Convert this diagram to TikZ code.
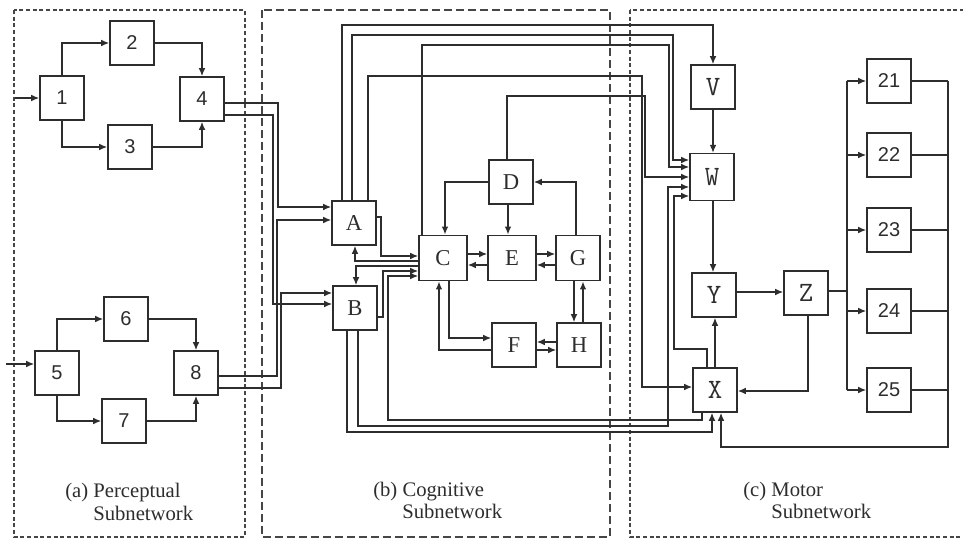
\documentclass[tikz,border=0pt]{standalone}
\usepackage{fontspec}
\setmainfont{Liberation Serif}
\newfontfamily\numfont{Liberation Sans}
\usetikzlibrary{arrows.meta}
\definecolor{lc}{RGB}{45,45,45}
\definecolor{dc}{RGB}{70,70,70}
\begin{document}
\begin{tikzpicture}[x=0.75pt,y=-0.75pt,
  box/.style={draw=lc,line width=1.2pt,fill=white,minimum width=33pt,minimum height=33pt,inner sep=0pt,font=\fontsize{17}{17}\selectfont,text=lc},
  nbox/.style={box,font=\numfont\fontsize{15}{15}\selectfont},
  mbox/.style={box,font=\ttfamily\fontsize{21}{21}\selectfont},
  ln/.style={draw=lc,line width=1pt},
  arr/.style={ln,-{Latex[length=6pt,width=5pt]}},
  lbl/.style={anchor=base west,inner sep=0pt,font=\fontsize{15.5}{15.5}\selectfont,text=lc},
  dsa/.style={draw=dc,line width=1pt,dash pattern=on 3pt off 2pt},
  dsb/.style={draw=dc,line width=1pt,dash pattern=on 6pt off 3pt},
]
\useasboundingbox (0,0) rectangle (963,539);
\fill[white] (0,0) rectangle (963,539);
% subnetwork frames
\draw[dsa] (14,10) rectangle (245,537);
\draw[dsb] (262,10) rectangle (610,537);
\draw[dsa] (630,10) rectangle (970,537);
% labels
\node[lbl] (la1) at (65,497) {(a) Perceptual};
\node[lbl] (la2) at (93,520) {Subnetwork};
\node[lbl] (lb1) at (373,496) {(b) Cognitive};
\node[lbl] (lb2) at (402,518) {Subnetwork};
\node[lbl] (lc1) at (743,496) {(c) Motor};
\node[lbl] (lc2) at (771,518) {Subnetwork};
% perceptual nodes
\node[nbox] (n1) at (62,98) {1};
\node[nbox] (n2) at (132,43) {2};
\node[nbox] (n3) at (130,147) {3};
\node[nbox] (n4) at (202,99) {4};
\node[nbox] (n5) at (57,373) {5};
\node[nbox] (n6) at (126,319) {6};
\node[nbox] (n7) at (124,421) {7};
\node[nbox] (n8) at (196,373) {8};
% cognitive nodes
\node[box] (nA) at (354,223) {A};
\node[box] (nB) at (355,308) {B};
\node[box,minimum width=36pt,minimum height=34pt] (nC) at (443,258) {C};
\node[box] (nD) at (511,182) {D};
\node[box,minimum width=36pt,minimum height=34pt] (nE) at (512,258) {E};
\node[box,minimum height=34pt] (nG) at (578,258) {G};
\node[box] (nF) at (514,345) {F};
\node[box] (nH) at (579,345) {H};
% motor nodes
\node[mbox] (nV) at (713,87) {V};
\node[mbox,minimum height=35pt] (nW) at (712,177) {W};
\node[mbox] (nY) at (714,295) {Y};
\node[mbox] (nZ) at (806,293) {Z};
\node[mbox] (nX) at (715,390) {X};
\node[nbox] (n21) at (889,81) {21};
\node[nbox] (n22) at (889,155) {22};
\node[nbox] (n23) at (889,230) {23};
\node[nbox] (n24) at (889,311) {24};
\node[nbox] (n25) at (889,390) {25};
% perceptual connectors
\coordinate (in1) at (15,98);
\coordinate (in5) at (6,364);
\draw[arr] (in1) -- (n1.west |- in1);
\draw[arr] (in5) -- (n5.west |- in5);
\draw[arr] (n1.north) |- (n2.west);
\draw[arr] (n1.south) |- (n3.west);
\draw[arr] (n2.east) -| (n4.north);
\draw[arr] (n3.east) -| (n4.south);
\draw[arr] (n5.north) |- (n6.west);
\draw[arr] (n5.south) |- (n7.west);
\draw[arr] (n6.east) -| (n8.north);
\draw[arr] (n7.east) -| (n8.south);
% perceptual -> cognitive
\draw[arr] (n4.east |- 0,103) -| (278,207) -- (nA.west |- 0,207);
\draw[arr] (n4.east |- 0,115) -| (273,304) -- (nB.west |- 0,304);
\draw[arr] (n8.east |- 0,376) -| (277,220) -- (nA.west |- 0,220);
\draw[arr] (n8.east |- 0,388) -| (281,293) -- (nB.west |- 0,293);
% cognitive internal
\draw[arr] (nD.west) -| (nC.north -| 445,0);
\draw[arr] (nD.south -| 508,0) -- (nE.north -| 508,0);
\draw[arr] (nG.north -| 576,0) |- (nD.east);
\draw[arr] (nE.east |- 0,254) -- (nG.west |- 0,254);
\draw[arr] (nG.west |- 0,265) -- (nE.east |- 0,265);
\draw[arr] (nC.east |- 0,254) -- (nE.west |- 0,254);
\draw[arr] (nE.west |- 0,265) -- (nC.east |- 0,265);
\draw[arr] (nG.south -| 574,0) -- (nH.north -| 574,0);
\draw[arr] (nH.north -| 583,0) -- (nG.south -| 583,0);
\draw[arr] (nH.west |- 0,342) -- (nF.east |- 0,342);
\draw[arr] (nF.east |- 0,350) -- (nH.west |- 0,350);
\draw[arr] (nC.south -| 449,0) |- (nF.west |- 0,338);
\draw[arr] (nF.west |- 0,350) -| (nC.south -| 439,0);
\draw[arr] (nA.east |- 0,217) -| (381,256) -- (nC.west |- 0,256);
\draw[arr] (nC.west |- 0,261) -| (nA.south -| 355,0);
\draw[arr] (nC.west |- 0,266) -| (nB.north -| 356,0);
\draw[arr] (nB.east |- 0,317) -| (383,271) -- (nC.west |- 0,271);
% cognitive -> motor
\draw[arr] (nA.north -| 342,0) |- (713,25) -- (nV.north);
\draw[arr] (nA.north -| 352,0) |- (673,35) |- (nW.west |- 0,160);
\draw[arr] (nA.north -| 368,0) |- (642,76) |- (nX.west |- 0,387);
\draw[arr] (nC.north -| 422,0) |- (669,45) |- (nW.west |- 0,167);
\draw[arr] (nD.north -| 507,0) |- (645,96) |- (nW.west |- 0,177);
\draw[arr] (nB.south -| 358,0) |- (668,426) |- (nW.west |- 0,187);
\draw[arr] (nX.north -| 707,0) |- (674,349) |- (nW.west |- 0,196);
\draw[arr] (nB.south -| 347,0) |- (712,432) -- (nX.south -| 712,0);
\draw[arr] (nX.south -| 702,0) |- (388,420) |- (nC.west |- 0,276);
% motor internal
\draw[arr] (nV.south) -- (nV.south |- nW.north);
\draw[arr] (nW.south -| 713,0) -- (nY.north -| 713,0);
\draw[arr] (nX.north -| 715,0) -- (nY.south -| 715,0);
\draw[arr] (nY.east |- 0,292) -- (nZ.west |- 0,292);
\draw[arr] (nZ.south -| 808,0) |- (nX.east |- 0,391);
\coordinate (lbus) at (847,0);
\coordinate (rbus) at (948,0);
\draw[ln] (nZ.east |- 0,291) -- (lbus |- 0,291);
\draw[ln] (n21.west -| lbus) -- (n25.west -| lbus);
\foreach \k in {21,22,23,24,25}{
  \draw[arr] (n\k.west -| lbus) -- (n\k.west);
  \draw[ln] (n\k.east) -- (n\k.east -| rbus);
}
\draw[arr] (n21.east -| rbus) |- (721,447) -- (nX.south -| 721,0);
\end{tikzpicture}
\end{document}
